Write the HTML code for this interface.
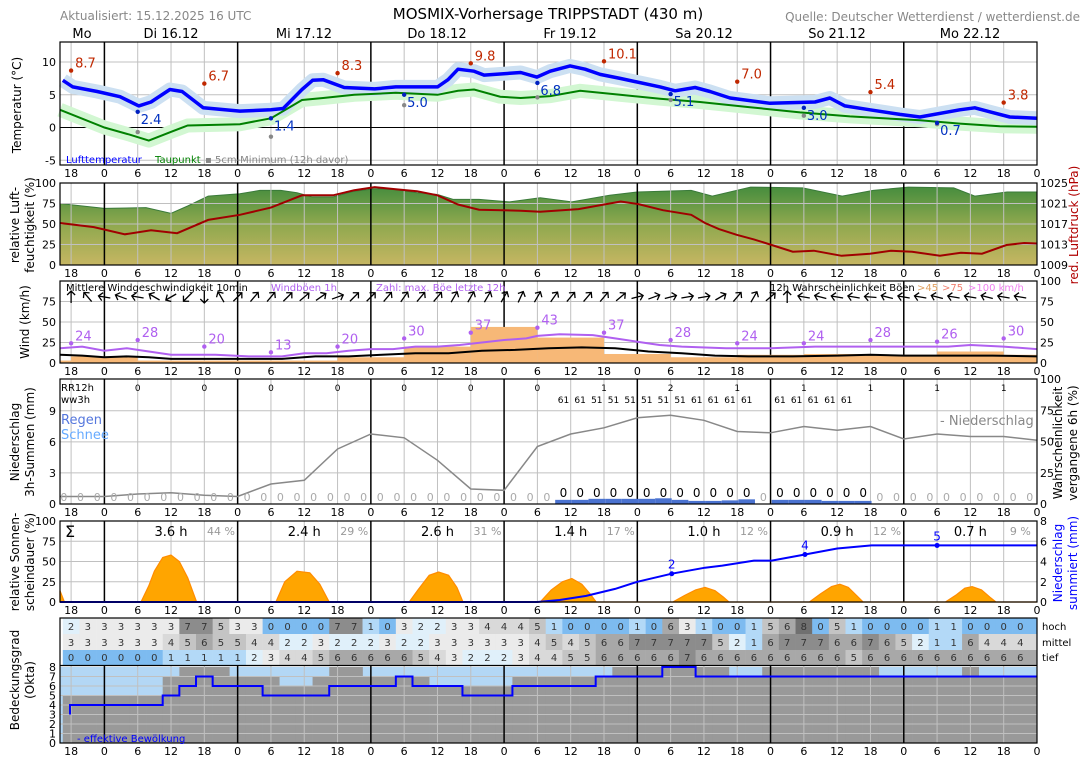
<!DOCTYPE html>
<html><head><meta charset="utf-8"><title>MOSMIX-Vorhersage TRIPPSTADT</title>
<style>
html,body{margin:0;padding:0;background:#fff;}
svg{display:block;font-family:"DejaVu Sans","Liberation Sans",sans-serif;}
</style></head>
<body>
<svg id="chart" xmlns="http://www.w3.org/2000/svg" width="1088" height="763" viewBox="0 0 1088 763">
<defs>
<linearGradient id="humGrad" gradientUnits="userSpaceOnUse" x1="0" y1="183" x2="0" y2="265">
<stop offset="0" stop-color="#3f8a3c"/><stop offset="0.5" stop-color="#8ea84e"/><stop offset="1" stop-color="#c6b662"/>
</linearGradient>
</defs>
<text x="60" y="20" font-size="12" fill="#888">Aktualisiert: 15.12.2025 16 UTC</text>
<text x="548" y="19" font-size="15" text-anchor="middle" fill="#000">MOSMIX-Vorhersage TRIPPSTADT (430 m)</text>
<text x="1080" y="21" font-size="12" text-anchor="end" fill="#888">Quelle: Deutscher Wetterdienst / wetterdienst.de</text>
<g id="days" font-size="13">
<text x="82" y="38" text-anchor="middle">Mo</text>
<text x="171" y="38" text-anchor="middle">Di 16.12</text>
<text x="304" y="38" text-anchor="middle">Mi 17.12</text>
<text x="437" y="38" text-anchor="middle">Do 18.12</text>
<text x="570" y="38" text-anchor="middle">Fr 19.12</text>
<text x="704" y="38" text-anchor="middle">Sa 20.12</text>
<text x="837" y="38" text-anchor="middle">So 21.12</text>
<text x="970" y="38" text-anchor="middle">Mo 22.12</text>
</g>
<g id="layer"></g>
<g font-size="12">
<text transform="translate(21,105) rotate(-90)" text-anchor="middle">Temperatur (°C)</text>
<text transform="translate(19,225) rotate(-90)" text-anchor="middle">relative Luft-</text>
<text transform="translate(34,225) rotate(-90)" text-anchor="middle">feuchtigkeit (%)</text>
<text transform="translate(29,322) rotate(-90)" text-anchor="middle">Wind (km/h)</text>
<text transform="translate(19,442) rotate(-90)" text-anchor="middle">Niederschlag</text>
<text transform="translate(34,442) rotate(-90)" text-anchor="middle">3h-Summen (mm)</text>
<text transform="translate(19,562) rotate(-90)" text-anchor="middle">relative Sonnen-</text>
<text transform="translate(34,562) rotate(-90)" text-anchor="middle">scheindauer (%)</text>
<text transform="translate(19,680) rotate(-90)" text-anchor="middle">Bedeckungsgrad</text>
<text transform="translate(34,680) rotate(-90)" text-anchor="middle">(Okta)</text>
<text transform="translate(1078,225) rotate(-90)" text-anchor="middle" fill="#b00000">red. Luftdruck (hPa)</text>
<text transform="translate(1062,443) rotate(-90)" text-anchor="middle">Wahrscheinlichkeit</text>
<text transform="translate(1077,443) rotate(-90)" text-anchor="middle">vergangene 6h (%)</text>
<text transform="translate(1062,563) rotate(-90)" text-anchor="middle" fill="#0000ff">Niederschlag</text>
<text transform="translate(1077,563) rotate(-90)" text-anchor="middle" fill="#0000ff">summiert (mm)</text>
</g>
</svg>
<script>
// ---------- data ----------
const tempH=[0.5,2.3,6.7,10.8,14.2,16.4,19.8,22,25.8,32.4,38,40.2,43.6,45.5,47.4,51.2,56.7,60.5,68,69.9,71.7,74.6,76.4,83,85.9,88.3,91.9,94.6,97.3,100.9,108.1,110.8,114.4,117.1,120.7,127.9,136,138.7,141.4,145.9,151.3,154.9,162.1,164.8,167.5,171.1,176];
const tempV=[7.2,6.2,5.5,4.7,3.3,3.9,5.8,5.5,3.0,2.5,2.7,2.9,5.8,7.2,7.3,6.1,5.9,6.2,6.2,7.3,8.9,8.6,8.0,8.4,7.7,8.6,9.4,8.9,8.1,7.5,6.2,5.6,6.1,5.5,4.5,3.7,3.9,4.5,3.3,2.7,2.0,1.6,2.7,3.0,2.4,1.6,1.4];
const dewH=[0,8,12.6,16,20.2,23,32.4,38,43.6,47.4,53,60.5,68,71.7,74.6,79.3,83,88.3,93.7,100.9,108.1,115.3,124.3,133.3,142.3,154.9,162.1,169.3,176];
const dewV=[2.7,0,-1.1,-2.0,-0.6,0.3,0.5,1.4,4.2,4.5,5.0,5.3,5.0,5.6,5.8,4.7,4.5,4.8,5.6,5.0,4.4,3.9,3.1,2.3,1.7,1.1,0.6,0.2,0.1];
const maxH=[2,26,50,74,98,122,146,170];
const maxV=[8.7,6.7,8.3,9.8,10.1,7.0,5.4,3.8];
const minH=[14,38,62,86,110,134,158];
const minV=[2.4,1.4,5.0,6.8,5.1,3.0,0.7];
const groundV=[-0.7,-1.4,3.4,4.6,4.2,1.8,0.5];
const humH=[0,8,15.5,20,23,26.7,32.4,36,39.8,42.7,45.4,49.2,53,56.7,60.5,64.3,68,70.8,75.5,81,86.5,92.2,99,104,113.7,117.5,124.4,133.8,140.9,146.5,152.8,161,164.8,170.6,176];
const humV=[75,69,70,63,72,84,87,91,91,88,83,83,90,93,92,88,86,80,80,77,82,77,85,89,91,84,95,94,84,91,95,94,84,89,89];
const presH=[0,6.1,11.7,16.4,21.1,26.7,32.4,38,43.6,49.2,53,56.7,60.5,64.3,68,71.7,75.5,83,86.5,93.4,101,104.1,108.6,113.7,116.2,118.7,121.9,125,128.2,132,135.8,140.8,145.9,149.7,153.5,158.5,162.3,166.1,170.5,173.7,176];
const presV=[1017.2,1016.4,1015,1015.8,1015.2,1017.8,1018.8,1020.2,1022.6,1022.6,1023.6,1024.2,1023.8,1023.4,1022.6,1020.8,1019.8,1019.6,1019.4,1019.9,1021.4,1020.9,1019.7,1018.8,1017.2,1016,1014.9,1014,1012.9,1011.6,1011.8,1010.8,1011.2,1011.8,1011.6,1010.8,1011.4,1011.2,1012.9,1013.3,1013.2];
const gustH=[0,4,8,12,16,20,28,34,40,44,48,52,56,60,64,68,72,76,80,84,86,90,96,100,104,108,112,120,128,136,142,150,160,164,170,176];
const gustV=[18,20,15,18,14,10,10,8,8,12,12,15,17,17,20,20,22,25,28,30,33,35,34,30,26,22,20,18,18,20,20,20,20,22,20,17];
const meanH=[0,4,8,12,16,20,28,34,40,46,52,58,64,70,76,82,88,94,100,106,112,118,124,132,140,146,152,160,168,176];
const meanV=[10,9,7,8,7,5,5,5,5,8,8,10,12,12,15,16,18,19,18,14,12,9,8,8,9,10,9,9,9,8];
const gustBarStart=[0,2,14,26,38,50,62,74,86,98,110,122,134,146,158,170];
const gustBarEnd=[2,14,26,38,50,62,74,86,98,110,122,134,146,158,170,176];
const gustBarV=[3,8,3,3,3,7,20,44,31,11,7,10,11,10,14,10];
const gustMaxH=[2,14,26,38,50,62,74,86,98,110,122,134,146,158,170];
const gustMaxV=[24,28,20,13,20,30,37,43,37,28,24,24,28,26,30];
const windDir=[0,-40,-80,-70,-80,-60,-120,-135,180,-30,45,40,40,45,50,55,70,45,45,40,35,40,40,30,30,30,30,25,30,
 35,40,40,40,50,75,70,75,80,80,60,40,30,50,0,-80,-75,-80,-80,-85,-75,-80,-80,-75,-80,-80,-75,-80,-80];
const probH=[0,8,14,20,26,32,38,44,50,56,62,68,74,80,86,92,98,104,110,116,122,128,134,140,146,152,158,164,170,176];
const probV=[6,6,8,9,7,6,16,19,44,56,53,35,12,11,46,56,61,69,71,67,58,57,62,59,62,52,56,54,54,51];
const precip3h=[0,0,0,0,0,0,0,0,0,0,0,0,0,0,0,0,0,0,0,0,0,0,0,0,0,0,0,0,0,0,
 0.4,0.4,0.5,0.5,0.5,0.5,0.55,0.4,0.3,0.3,0.35,0.45,0,0.4,0.4,0.4,0.3,0.3,0.3,0,0,0,0,0,0,0,0,0,0];
const rr12H=[14,26,38,50,62,74,86,98,110,122,134,146,158,170];
const rr12V=["0","0","0","0","0","0","0","1","2","1","1","1","1","1"];
const wwCells=[30,31,32,33,34,35,36,37,38,39,40,41,43,44,45,46,47];
const wwV=["61","61","51","51","51","51","51","51","61","61","61","61","61","61","61","61","61"];
const sunH=[0,0.8,14.6,16,17,18.5,20,21.5,23,24.6,38.9,40.5,42.7,45,46.8,48.5,62.9,64.5,66.5,68.2,70,71.5,72.6,86.5,88.5,90.5,92.2,94,95.5,96.6,110.4,112.5,114.5,116.2,118,119.5,120.5,135,137,139,140.5,142,143.5,144.7,159.5,161.5,163,164.3,166,167.5,168.6,176];
const sunV=[14,0,0,20,38,55,58,50,30,0,0,25,38,36,22,0,0,15,33,37,33,18,0,0,15,25,29,22,10,0,0,8,15,18,14,6,0,0,10,19,22,18,8,0,0,9,17,19,15,6,0,0];
const sunDayH=[20,44,68,92,116,140,164];
const sunHours=["3.6 h","2.4 h","2.6 h","1.4 h","1.0 h","0.9 h","0.7 h"];
const sunPct=["44 %","29 %","31 %","17 %","12 %","12 %","9 %"];
const accH=[0,86,90,94.8,100,104,110.2,116.2,119.3,125,128.2,134.2,140,146.2,176];
const accV=[0,0,0.2,0.6,1.3,2.0,2.8,3.4,3.6,4.1,4.1,4.7,5.3,5.6,5.6];
const accMarkH=[110.2,134.2,158];
const accMarkV=[2.8,4.7,5.6];
const accMarkLbl=["2","4","5"];
const cloudHigh=[2,3,3,3,3,3,3,7,7,5,3,3,0,0,0,0,7,7,1,0,3,2,2,3,3,4,4,4,5,1,0,0,0,0,1,0,6,3,1,0,0,1,5,6,8,0,5,1,0,0,0,0,1,1,0,0,0,0];
const cloudMid=[3,3,3,3,3,3,4,5,6,5,5,4,4,2,2,3,2,2,2,3,2,2,3,3,3,3,3,3,4,5,4,5,6,6,7,7,7,7,7,5,2,1,6,7,7,7,6,6,7,6,5,2,1,1,6,4,4,4];
const cloudLow=[0,0,0,0,0,0,1,1,1,1,1,2,3,4,4,5,6,6,6,6,6,5,4,3,2,2,2,3,4,4,5,5,6,6,6,6,6,7,6,6,6,6,6,6,6,6,6,5,6,6,6,6,6,6,6,6,6,6];
const cloudTotal=[5,5,5,5,5,5,7,8,8,8,7,7,7,6,6,7,8,8,7,7,7,7,6,6,6,6,6,7,7,7,7,7,7,8,8,8,8,8,8,8,7,7,8,8,8,8,8,8,8,7,7,7,7,7,8,7,7,7];
const cloudEff=[4,4,4,4,4,4,5,6,7,6,6,6,5,5,5,5,6,6,6,6,7,6,6,6,5,5,5,6,6,6,6,6,7,7,7,7,8,8,7,7,7,7,7,7,7,7,7,7,7,7,7,7,7,7,7,7,7,7];

// ---------- scales ----------
const NS="http://www.w3.org/2000/svg";
const L=document.getElementById('layer');
const X=h=>60+h*977/176;
const yT=v=>127.5-6.55*v;
const yHum=v=>265-0.82*v;
const yP=v=>265-(v-1009)*82/16;
const yW=v=>363-0.82*v;
const yMM=v=>504-10.36*v;
const yProb=v=>504-1.25*v;
const ySun=v=>602-0.81*v;
const yAcc=v=>602-10.1*v;
const yOk=v=>743-9.5*v;
function mk(tag,attrs,parent){const e=document.createElementNS(NS,tag);for(const k in attrs)e.setAttribute(k,attrs[k]);(parent||L).appendChild(e);return e;}
function tx(x,y,s,attrs){const e=mk('text',Object.assign({x:x,y:y},attrs||{}));e.textContent=s;return e;}
function pts(hs,vs,f){return hs.map((h,i)=>X(h).toFixed(1)+','+f(vs[i]).toFixed(1)).join(' ');}
function grid(top,bot,hlines){
  for(const y of hlines){const g=mk('line',{x1:60,x2:1037,y1:y,y2:y,stroke:'#c0c0c0','stroke-width':1});
    
    }
  for(let h=2;h<176;h+=6){const mid=(h+16)%24===0;
    const g=mk('line',{x1:X(h),x2:X(h),y1:top,y2:bot,stroke:mid?'#000':'#c0c0c0','stroke-width':mid?1.5:1});
    
    }
}
function frame(top,bot,name){const r=mk('rect',{x:60,y:top,width:977,height:bot-top,fill:'none',stroke:'#000','stroke-width':1.2});
  
  }
function timeTicks(y){for(let h=2;h<=176;h+=6){const t=tx(X(h),y,String((h+16)%24),{'font-size':11,'text-anchor':'middle'});
  
  }}
function yTicks(vals,f,x,anchor,color){for(const v of vals){const t=tx(x,f(v)+4,String(v),{'font-size':11,'text-anchor':anchor,fill:color||'#000'});
  
  }}

// ---------- temperature ----------
grid(42,165,[yT(10),yT(5),yT(-5)]);
const zl=mk('line',{x1:60,x2:1037,y1:yT(0),y2:yT(0),stroke:'#000','stroke-width':1});


const db=mk('polyline',{points:pts(dewH,dewV,yT),fill:'none',stroke:'#d2f7d2','stroke-width':14,'stroke-linejoin':'round'});


const tb=mk('polyline',{points:pts(tempH,tempV,yT),fill:'none',stroke:'#cce0f2','stroke-width':14,'stroke-linejoin':'round'});


const dl=mk('polyline',{points:pts(dewH,dewV,yT),fill:'none',stroke:'#008000','stroke-width':2});


const tl=mk('polyline',{points:pts(tempH,tempV,yT),fill:'none',stroke:'#0000ff','stroke-width':3.5,'stroke-linejoin':'round'});


maxH.forEach((h,i)=>{const c=mk('circle',{cx:X(h),cy:yT(maxV[i]),r:2.2,fill:'#c02800'});
  
  
  const t=tx(X(h)+4,yT(maxV[i])-3,maxV[i].toFixed(1),{'font-size':13,fill:'#c02800'});
  
  });
minH.forEach((h,i)=>{const g=mk('circle',{cx:X(h),cy:yT(groundV[i]),r:2.2,fill:'#888'});
  
  
  const c=mk('circle',{cx:X(h),cy:yT(minV[i]),r:2.2,fill:'#0020c0'});
  
  
  const t=tx(X(h)+3,yT(minV[i])+12,minV[i].toFixed(1),{'font-size':13,fill:'#0030c0'});
  
  });
frame(42,165,'temperature-panel');
yTicks([10,5,0,-5],yT,56,'end');
timeTicks(177);
const lg1=tx(66,163,'Lufttemperatur',{'font-size':10,fill:'#0000ff'});


const lg2=tx(155,163,'Taupunkt',{'font-size':10,fill:'#008000'});


const lg3=tx(205,163,'▪ 5cm-Minimum (12h davor)',{'font-size':10,fill:'#888'});



// ---------- humidity / pressure ----------
const hp='M'+X(0)+',265 L'+pts(humH,humV,yHum).replace(/ /g,' L')+' L'+X(176)+',265 Z';
const ha=mk('path',{d:hp,fill:'url(#humGrad)',stroke:'#3a7a3a','stroke-width':1});


grid(183,265,[yHum(25),yHum(50),yHum(75)]);
const pl=mk('polyline',{points:pts(presH,presV,yP),fill:'none',stroke:'#a00000','stroke-width':2});


frame(183,265,'humidity-panel');
yTicks([100,75,50,25,0],yHum,56,'end');
yTicks([1025,1021,1017,1013,1009],yP,1040,'start');
timeTicks(277);

// ---------- wind ----------
grid(281,363,[yW(25),yW(50),yW(75)]);
gustBarV.forEach((v,i)=>{const r=mk('rect',{x:X(gustBarStart[i]),y:yW(v),width:X(gustBarEnd[i])-X(gustBarStart[i]),height:363-yW(v),fill:'#f7b877'});
  
  });
const gl=mk('polyline',{points:pts(gustH,gustV,yW),fill:'none',stroke:'#b060f0','stroke-width':2});


const ml=mk('polyline',{points:pts(meanH,meanV,yW),fill:'none',stroke:'#000','stroke-width':2});


gustMaxH.forEach((h,i)=>{const c=mk('circle',{cx:X(h),cy:yW(gustMaxV[i]),r:2.2,fill:'#b060f0'});
  
  
  const t=tx(X(h)+4,yW(gustMaxV[i])-3,String(gustMaxV[i]),{'font-size':13,fill:'#b060f0'});
  
  });
windDir.forEach((a,k)=>{const g=mk('g',{transform:'translate('+X(2+3*k).toFixed(1)+',297) rotate('+a+')'});
  
  
  mk('path',{d:'M0,6 L0,-6 M-4,-2 L0,-6 L4,-2',stroke:'#000','stroke-width':1.3,fill:'none'},g);});
frame(281,363,'wind-panel');
yTicks([75,50,25,0],yW,56,'end');
yTicks([100,75,50,25,0],yW,1040,'start');
timeTicks(375);
const wt=[[66,'Mittlere Windgeschwindigkeit 10min','#000'],[271,'Windböen 1h','#b060f0'],[376,'Zahl: max. Böe letzte 12h','#b060f0'],[770,'12h Wahrscheinlichkeit Böen','#000'],[917,'>45','#e0a060'],[942,'>75','#f08070'],[968,'>100 km/h','#f080f0']];
wt.forEach(w=>{const t=tx(w[0],291,w[1],{'font-size':10,fill:w[2]});
  
  });

// ---------- precipitation ----------
grid(379,504,[yMM(3),yMM(6),yMM(9)]);
const prl=mk('polyline',{points:pts(probH,probV,yProb),fill:'none',stroke:'#888','stroke-width':1.5});


precip3h.forEach((v,k)=>{const cx=X(0.7+3*k);
  if(v>0){const r=mk('rect',{x:cx-8.3,y:yMM(v),width:16.6,height:504-yMM(v),fill:'#4a72d0'});
    
    }
  const t=tx(cx,v>0?497:501,String(Math.floor(v)),{'font-size':v>0?12:11,'text-anchor':'middle',fill:v>0?'#000':'#aaa'});
  
  });
rr12H.forEach((h,i)=>{const t=tx(X(h),391,rr12V[i],{'font-size':9,'text-anchor':'middle'});
  
  });
wwCells.forEach((k,i)=>{const t=tx(X(0.7+3*k),403,wwV[i],{'font-size':9,'text-anchor':'middle'});
  
  });
frame(379,504,'precip-panel');
yTicks([9,6,3,0],yMM,56,'end');
yTicks([100,75,50,25,0],yProb,1040,'start');
timeTicks(516);
[[61,391,'RR12h',10,'#000'],[61,403,'ww3h',10,'#000'],[61,424,'Regen',13,'#5577dd'],[61,439,'Schnee',13,'#66aaff'],[940,425,'- Niederschlag',13,'#888']].forEach(p=>{
  const t=tx(p[0],p[1],p[2],{'font-size':p[3],fill:p[4]});
  
  });

// ---------- sunshine ----------
grid(521,602,[ySun(25),ySun(50),ySun(75)]);
const sp='M'+X(0)+',602 L'+pts(sunH,sunV,ySun).replace(/ /g,' L')+' L'+X(176)+',602 Z';
const sa=mk('path',{d:sp,fill:'#ffa500',stroke:'#ff8c00','stroke-width':1.2});


const al=mk('polyline',{points:pts(accH,accV,yAcc),fill:'none',stroke:'#0000ff','stroke-width':2});


accMarkH.forEach((h,i)=>{const c=mk('circle',{cx:X(h),cy:yAcc(accMarkV[i]),r:2.5,fill:'#0000ff'});
  
  
  const t=tx(X(h),yAcc(accMarkV[i])-5,accMarkLbl[i],{'font-size':12,'text-anchor':'middle',fill:'#0000ff'});
  
  });
sunDayH.forEach((h,i)=>{const t=tx(X(h),536,sunHours[i],{'font-size':13,'text-anchor':'middle'});
  
  
  const p=tx(X(h)+50,535,sunPct[i],{'font-size':11,'text-anchor':'middle',fill:'#999'});
  
  });
const sg=tx(65,537,'Σ',{'font-size':16});


frame(521,602,'sunshine-panel');
yTicks([100,75,50,25,0],ySun,56,'end');
yTicks([8,6,4,2,0],yAcc,1040,'start');
timeTicks(614);

// ---------- clouds ----------
const cCol=['#7dbbf0','#b3d9f7','#e0f0fa','#ebebeb','#d9d9d9','#c4c4c4','#a8a8a8','#8c8c8c','#707070'];
const rows=[[cloudHigh,618,634,'hoch'],[cloudMid,634,650,'mittel'],[cloudLow,650,665,'tief']];
rows.forEach(r=>{r[0].forEach((v,k)=>{const x0=Math.max(60,X(0.5+3*k)),x1=k===r[0].length-1?1037:X(3.5+3*k);
    const c=mk('rect',{x:x0,y:r[1],width:x1-x0+0.3,height:r[2]-r[1],fill:cCol[v]});
    
    
    const t=tx(X(2+3*k),r[2]-4,String(v),{'font-size':10,'text-anchor':'middle',fill:'#333'});
    
    });
  const lb=tx(1042,r[2]-4,r[3],{'font-size':10});
  
  });
const okBg=mk('rect',{x:60,y:yOk(8),width:977,height:yOk(0)-yOk(8),fill:'#b3d7f5'});


cloudTotal.forEach((v,k)=>{const x0=Math.max(60,X(0.5+3*k)),x1=k===cloudTotal.length-1?1037:X(3.5+3*k);
  const r=mk('rect',{x:x0,y:yOk(v),width:x1-x0+0.3,height:yOk(0)-yOk(v),fill:'#999'});
  
  });
grid(666,743,[1,2,3,4,5,6,7].map(yOk));
let ed='';
cloudEff.forEach((v,k)=>{const x0=Math.max(X(1.8),X(0.5+3*k)),x1=k===cloudEff.length-1?1037:X(3.5+3*k);
  ed+=(k===0?'M'+x0+','+yOk(3)+' L'+x0+','+yOk(v):' L'+x0+','+yOk(v))+' L'+x1+','+yOk(v);});
const el=mk('path',{d:ed,fill:'none',stroke:'#0000ff','stroke-width':2});


const cf=mk('rect',{x:60,y:618,width:977,height:125,fill:'none',stroke:'#000','stroke-width':1.2});


const sep=mk('line',{x1:60,x2:1037,y1:665.5,y2:665.5,stroke:'#000','stroke-width':1.2});


yTicks([8,7,6,5,4,3,2,1,0],yOk,56,'end');
const ef=tx(77,742,'- effektive Bewölkung',{'font-size':10,fill:'#0000ff'});


timeTicks(755);
</script>
</body></html>
